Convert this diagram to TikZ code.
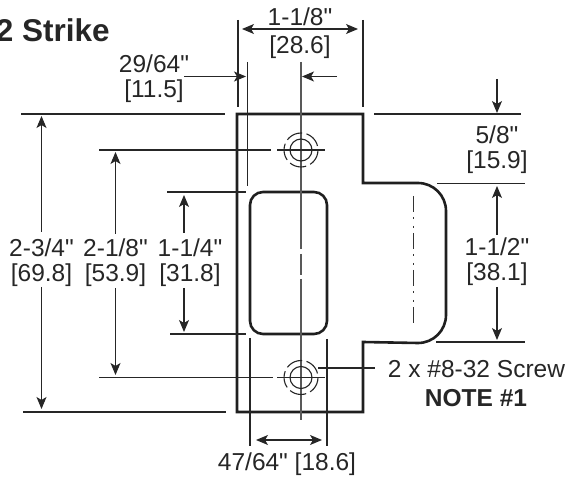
\documentclass[tikz,border=0pt]{standalone}
\usepackage{fontspec}
\setmainfont{Liberation Sans}[Ligatures=TeXOff]
\usetikzlibrary{arrows.meta}
\tikzset{
  plate/.style={line width=2.6pt, line join=miter, black!88},
  thin line/.style={line width=1.1pt, black!85},
  center line/.style={line width=1.2pt, black!65, dash pattern=on 187pt off 5pt on 21pt off 4pt on 141pt},
  tab line/.style={line width=1pt, black!80, dash pattern=on 16pt off 5pt on 2pt off 7pt on 2pt off 5pt},
  dim arrow/.style={line width=1.1pt, black!85, -{Stealth[length=12pt,width=10pt,inset=3pt]}},
  dim text/.style={inner sep=0pt, font=\fontsize{24.5}{25}\selectfont, text=black!85},
  note text/.style={inner sep=0pt, font=\fontsize{24.5}{25}\selectfont\bfseries, text=black!85},
}
\begin{document}
\begin{tikzpicture}[x=1pt,y=-1pt]
  \useasboundingbox (0,0) rectangle (568,478);

  % title
  \node[anchor=east, inner sep=0pt, font=\fontsize{31.5}{32}\selectfont\bfseries, text=black!85] (title) at (110,30) {2 Strike};

  % outline of the strike
  \draw[plate] (237,114) -- (363,114) -- (363,183) -- (418,183)
    arc[start angle=-90, end angle=0, radius=28] -- (446,315)
    arc[start angle=0, end angle=90, radius=28] -- (363,342) -- (363,412) -- (237,412) -- cycle;
  \draw[plate, rounded corners=13pt] (250,192) rectangle (327,334);

  % center lines
  \draw[center line] (301,62) -- (301,420);
  \draw[tab line] (413,196) -- (413,324);

  % screw holes
  \foreach \name/\cy in {upper/150, lower/377.5} {
    \coordinate (\name) at (301,\cy);
    \draw[thin line] (\name) circle (11);
    \draw[thin line, dash pattern=on 17pt off 4.4pt] (\name) circle (17);
    \draw[thin line] (277,\cy) -- (325,\cy);
  }

  % extension lines
  \draw[thin line] (238,20) -- (238,107);
  \draw[thin line] (363,20) -- (363,107);
  \draw[thin line] (247.5,62) -- (247.5,186);
  \draw[thin line] (21,114) -- (225,114);
  \draw[thin line] (99,150) -- (271,150);
  \draw[thin line] (167,192) -- (246,192);
  \draw[thin line] (170,334) -- (246,334);
  \draw[thin line] (99,377.5) -- (273,377.5);
  \draw[thin line] (23,412) -- (226,412);
  \draw[thin line] (374,114) -- (521,114);
  \draw[thin line] (437,183.5) -- (525,183.5);
  \draw[thin line] (436,342) -- (525,342);
  \draw[thin line] (250,338) -- (250,446);
  \draw[thin line] (327,339) -- (327,446);

  % labels
  \node[dim text, align=center] (widthtop) at (300,16.5) {1-1/8"};
  \node[dim text, align=center] (widthbot) at (300,47.5) {[28.6]};
  \node[dim text, align=center] (offset) at (154,79) {29/64"\\{[11.5]}};
  \node[dim text, align=center] (total) at (41.5,262.5) {2-3/4"\\{[69.8]}};
  \node[dim text, align=center] (holes) at (115.5,262.5) {2-1/8"\\{[53.9]}};
  \node[dim text, align=center] (window) at (190,262.5) {1-1/4"\\{[31.8]}};
  \node[dim text, align=center] (edge) at (497,150) {5/8"\\{[15.9]}};
  \node[dim text, align=center] (tab) at (497,262) {1-1/2"\\{[38.1]}};
  \node[dim text] (span) at (287,464.5) {47/64" [18.6]};
  \node[dim text] (screw) at (476.5,369) {2 x \#8-32 Screw};
  \node[note text] (note) at (476,398) {NOTE \#1};

  % dimension arrows
  \draw[dim arrow] (300,29) -- (242,29);
  \draw[dim arrow] (300,29) -- (358,29);
  \draw[dim arrow] (184,76.5) -- (246,76.5);
  \draw[dim arrow] (337,76.5) -- (302,76.5);
  \draw[dim arrow] (41.5,232) -- (41.5,116);
  \draw[dim arrow] (41.5,287) -- (41.5,409);
  \draw[dim arrow] (115.5,234) -- (115.5,152);
  \draw[dim arrow] (115.5,288) -- (115.5,375);
  \draw[dim arrow] (184,233) -- (184,195);
  \draw[dim arrow] (184,288) -- (184,332);
  \draw[dim arrow] (497,79) -- (497,113);
  \draw[dim arrow] (497,235) -- (497,186);
  \draw[dim arrow] (497,287) -- (497,340);
  \draw[dim arrow] (288,440) -- (256,440);
  \draw[dim arrow] (288,440) -- (322,440);

  % leader to the screw
  \draw[line width=1.7pt, black!85] (318,368) -- (375,368);
\end{tikzpicture}
\end{document}
